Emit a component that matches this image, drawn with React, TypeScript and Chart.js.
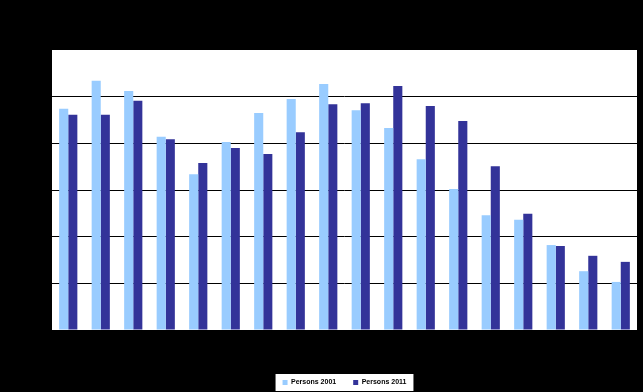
import { useEffect, useRef } from "react";
import { Chart, registerables } from "chart.js";

Chart.register(...registerables);

const categories = [
  "0-4", "5-9", "10-14", "15-19", "20-24", "25-29", "30-34", "35-39", "40-44",
  "45-49", "50-54", "55-59", "60-64", "65-69", "70-74", "75-79", "80-84", "85+",
];
const persons2001 = [4.74, 5.34, 5.12, 4.14, 3.34, 4.03, 4.65, 4.95, 5.27, 4.71, 4.33, 3.66, 3.02, 2.46, 2.36, 1.82, 1.26, 1.03];
const persons2011 = [4.61, 4.61, 4.91, 4.09, 3.58, 3.9, 3.77, 4.24, 4.84, 4.86, 5.23, 4.8, 4.48, 3.51, 2.49, 1.8, 1.59, 1.46];
const seriesNames = ["Persons 2001", "Persons 2011"];
const yMin = 0;
const yMax = 6;
const yStep = 1;

const bgPlugin = {
  id: "bgPlugin",
  beforeDraw(chart: any) {
    const { ctx, chartArea, width, height } = chart;
    ctx.save();
    ctx.fillStyle = "#000000";
    ctx.fillRect(0, 0, width, height);
    ctx.fillStyle = "#ffffff";
    ctx.fillRect(chartArea.left, chartArea.top, chartArea.right - chartArea.left, chartArea.bottom - chartArea.top);
    const boxes = chart.legend && chart.legend.legendHitBoxes;
    if (boxes && boxes.length) {
      const l = Math.min(...boxes.map((b: any) => b.left)) - 7;
      const r = Math.max(...boxes.map((b: any) => b.left + b.width)) + 7;
      const t = Math.min(...boxes.map((b: any) => b.top)) - 5;
      const bt = Math.max(...boxes.map((b: any) => b.top + b.height)) + 5;
      ctx.fillRect(l, t, r - l, bt - t);
    }
    ctx.restore();
  },
};

export default function App() {
  const canvasRef = useRef<HTMLCanvasElement | null>(null);

  useEffect(() => {
    document.body.style.margin = "0";
    document.body.style.background = "#000";
    const canvas = canvasRef.current;
    if (!canvas) return;
    const chart = new Chart(canvas, {
      type: "bar",
      data: {
        labels: categories,
        datasets: [
          {
            label: seriesNames[0],
            data: persons2001,
            backgroundColor: "#99CCFF",
            borderWidth: 0,
            categoryPercentage: 0.56,
            barPercentage: 1,
          },
          {
            label: seriesNames[1],
            data: persons2011,
            backgroundColor: "#333399",
            borderWidth: 0,
            categoryPercentage: 0.56,
            barPercentage: 1,
          },
        ],
      },
      options: {
        responsive: false,
        animation: false,
        layout: { padding: { top: 50, right: 6, left: 52, bottom: -4 } },
        plugins: {
          tooltip: { enabled: false },
          legend: {
            position: "bottom",
            labels: {
              boxWidth: 5,
              boxHeight: 5,
              padding: 17,
              color: "#000",
              font: { family: "Liberation Sans, Arial, sans-serif", size: 7, weight: "bold" },
            },
          },
        },
        scales: {
          x: {
            grid: { display: false },
            border: { display: true, color: "#000" },
            ticks: { color: "#000", font: { size: 8 }, maxRotation: 0 },
            afterFit: (scale: any) => {
              scale.height = 32;
            },
          },
          y: {
            min: yMin,
            max: yMax,
            ticks: { stepSize: yStep, color: "#000", font: { size: 8 } },
            grid: {
              color: (ctx: any) => (ctx.tick && ctx.tick.value === yMax ? "rgba(0,0,0,0)" : "#000"),
              lineWidth: 1,
            },
            border: { display: false },
            afterFit: (scale: any) => {
              scale.width = 0;
            },
          },
        },
      },
      plugins: [bgPlugin],
    });
    return () => chart.destroy();
  }, []);

  return (
    <div style={{ width: 643, height: 392, background: "#000" }}>
      <canvas ref={canvasRef} width={643} height={392} style={{ display: "block" }} />
    </div>
  );
}
